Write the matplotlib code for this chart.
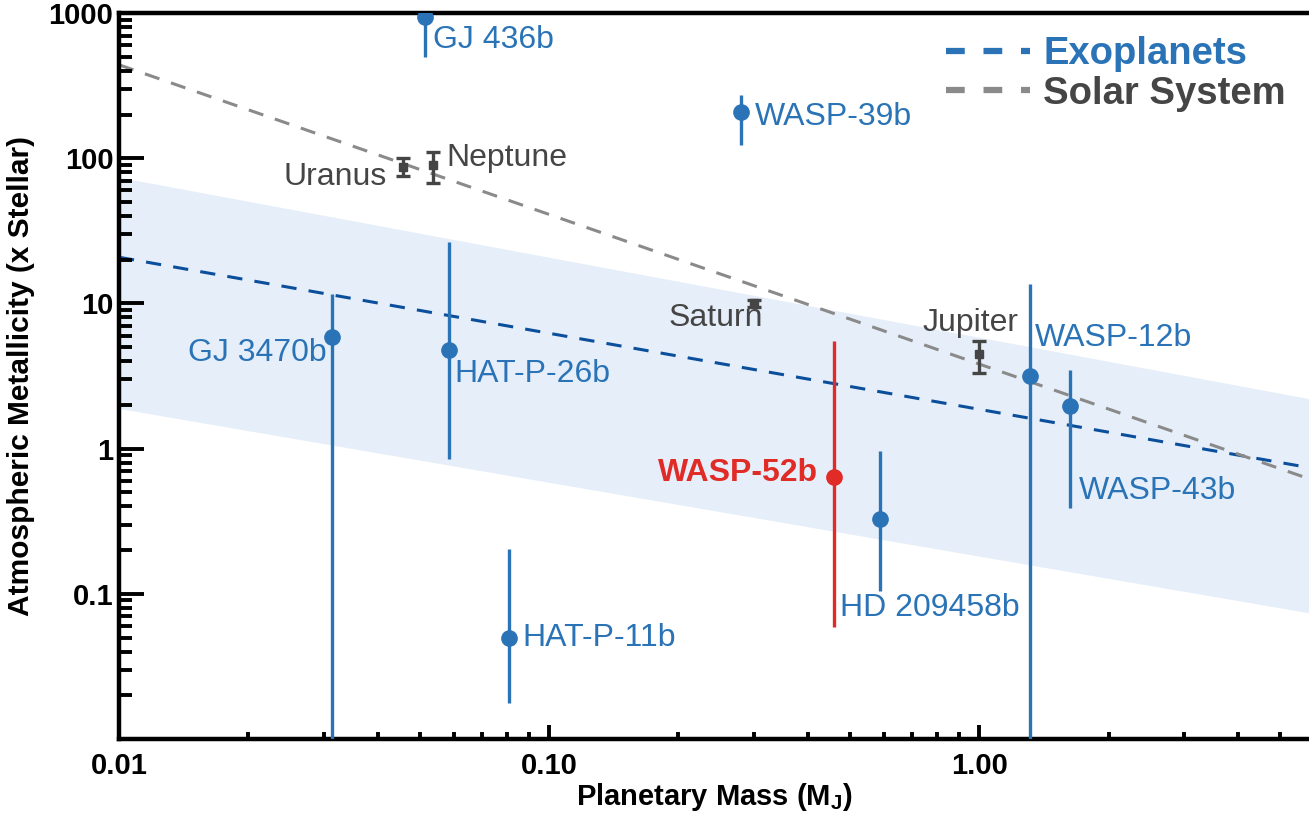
import numpy as np
import matplotlib
matplotlib.use('Agg')
from matplotlib import pyplot as plt
from matplotlib.lines import Line2D
from matplotlib.ticker import FixedLocator, LogLocator, NullFormatter

plt.rcParams['font.family'] = ['Liberation Sans', 'DejaVu Sans']
plt.rcParams['mathtext.fontset'] = 'custom'
plt.rcParams['mathtext.rm'] = 'Liberation Sans'
plt.rcParams['mathtext.bf'] = 'Liberation Sans:bold'

# exoplanets (mass in M_J, metallicity x stellar)
exo_names = ['GJ 436b', 'WASP-39b', 'GJ 3470b', 'HAT-P-26b', 'HAT-P-11b',
             'HD 209458b', 'WASP-12b', 'WASP-43b']
exo_mass = [0.0515, 0.28, 0.0313, 0.0585, 0.0807, 0.589, 1.315, 1.63]
exo_metal = [938, 207, 5.9, 4.8, 0.0498, 0.329, 3.18, 1.98]
exo_hi = [2000, 272, 11.7, 26.4, 0.204, 0.97, 13.7, 3.5]
exo_lo = [497, 123, 0.001, 0.85, 0.0177, 0.105, 0.001, 0.39]

# WASP-52b (this work)
w52_mass = [0.46]
w52_metal = [0.64]
w52_hi = [5.47]
w52_lo = [0.059]

# solar system
sol_names = ['Uranus', 'Neptune', 'Saturn', 'Jupiter']
sol_mass = [0.0458, 0.0537, 0.30, 1.0]
sol_metal = [86.7, 89.6, 10.0, 4.45]
sol_hi = [100, 110, 10.5, 5.47]
sol_lo = [76, 67, 9.5, 3.3]

# fitted trends at the plot edges
fit_mass = [0.01, 5.85]
exo_fit = [20.8, 0.74]
exo_band_hi = [74.0, 2.21]
exo_band_lo = [1.89, 0.074]
sol_fit = [440, 0.62]

BLUE = '#2a73b6'
DARKBLUE = '#0b4f9c'
RED = '#e02b27'
GREY = '#454545'
LIGHTGREY = '#8a8a8a'

# label offsets in points (x, y, ha)
exo_offsets = {'GJ 436b': (6, -16.6, 'left'), 'WASP-39b': (10, -3.6, 'left'),
               'GJ 3470b': (-3.6, -11.5, 'right'), 'HAT-P-26b': (4.3, -17.3, 'left'),
               'HAT-P-11b': (9.4, 0, 'left'), 'HD 209458b': (-28.8, -64, 'left'),
               'WASP-12b': (3.6, 27.4, 'left'), 'WASP-43b': (5.8, -61.2, 'left')}
sol_offsets = {'Uranus': (-11.5, -7.2, 'right'), 'Neptune': (10, 5, 'left'),
               'Saturn': (-28, -10.8, 'center'), 'Jupiter': (-5.8, 23, 'center')}

fig = plt.figure(figsize=(13.09, 8.14), dpi=100)
ax = fig.add_axes([0.0909, 0.0921, 0.9091, 0.8919])
ax.set_xscale('log')
ax.set_yscale('log')
ax.set_xlim(0.01, 5.85)
ax.set_ylim(0.01, 1000)

ax.fill_between(fit_mass, exo_band_lo, exo_band_hi, color='#e6eff9', lw=0, zorder=0)
ax.plot(fit_mass, exo_fit, color=DARKBLUE, lw=2.2, dashes=(5, 4), zorder=1)
ax.plot(fit_mass, sol_fit, color=LIGHTGREY, lw=2.2, dashes=(5, 4), zorder=1)

exo_err = [np.array(exo_metal) - np.array(exo_lo), np.array(exo_hi) - np.array(exo_metal)]
ax.errorbar(exo_mass, exo_metal, yerr=exo_err, fmt='o', color=BLUE, ms=11,
            elinewidth=2.4, capsize=0, zorder=3)
w52_err = [np.array(w52_metal) - np.array(w52_lo), np.array(w52_hi) - np.array(w52_metal)]
ax.errorbar(w52_mass, w52_metal, yerr=w52_err, fmt='o', color=RED, ms=11,
            elinewidth=2.4, capsize=0, zorder=3)
sol_err = [np.array(sol_metal) - np.array(sol_lo), np.array(sol_hi) - np.array(sol_metal)]
ax.errorbar(sol_mass, sol_metal, yerr=sol_err, fmt='s', color=GREY, ms=6,
            elinewidth=2.4, capsize=5, capthick=2.4, zorder=3)

for name, m, z in zip(exo_names, exo_mass, exo_metal):
    dx, dy, ha = exo_offsets[name]
    ax.annotate(name, (m, z), xytext=(dx, dy), textcoords='offset points',
                ha=ha, va='center', fontsize=23, color=BLUE, zorder=4)
ax.annotate('WASP-52b', (w52_mass[0], w52_metal[0]), xytext=(-11.5, 2.9),
            textcoords='offset points', ha='right', va='center', fontsize=23,
            color=RED, fontweight='bold', zorder=4)
for name, m, z in zip(sol_names, sol_mass, sol_metal):
    dx, dy, ha = sol_offsets[name]
    ax.annotate(name, (m, z), xytext=(dx, dy), textcoords='offset points',
                ha=ha, va='center', fontsize=23, color=GREY, zorder=4)

# axes styling
for side in ['left', 'bottom', 'top']:
    ax.spines[side].set_linewidth(3.2)
ax.spines['right'].set_visible(False)
ax.xaxis.set_major_locator(FixedLocator([0.01, 0.1, 1.0]))
ax.xaxis.set_minor_locator(LogLocator(base=10, subs=np.arange(2, 10)))
ax.xaxis.set_minor_formatter(NullFormatter())
ax.set_xticklabels(['0.01', '0.10', '1.00'])
ax.yaxis.set_major_locator(FixedLocator([0.1, 1, 10, 100, 1000]))
ax.yaxis.set_minor_locator(LogLocator(base=10, subs=np.arange(2, 10)))
ax.yaxis.set_minor_formatter(NullFormatter())
ax.set_yticklabels(['0.1', '1', '10', '100', '1000'])
ax.tick_params(axis='x', which='major', direction='in', length=10, width=2.8,
               labelsize=21, pad=9)
ax.tick_params(axis='x', which='minor', direction='in', length=5, width=2.8)
ax.tick_params(axis='y', which='major', direction='in', length=18, width=2.8,
               labelsize=21, pad=4)
ax.tick_params(axis='y', which='minor', direction='in', length=9, width=2.8)
ax.tick_params(top=False, right=False, which='both')
for lab in ax.get_xticklabels() + ax.get_yticklabels():
    lab.set_fontweight('bold')

ax.set_xlabel(r'Planetary Mass (M$_\mathbf{J}$)', fontsize=21, fontweight='bold', labelpad=1)
ax.set_ylabel('Atmospheric Metallicity (x Stellar)', fontsize=21.5, fontweight='bold', labelpad=10)

handles = [Line2D([], [], color=BLUE, lw=4.5, dashes=(3, 3)),
           Line2D([], [], color=LIGHTGREY, lw=4.5, dashes=(3, 3))]
leg = ax.legend(handles, ['Exoplanets', 'Solar System'], loc='upper right',
                frameon=False, fontsize=27.5, handlelength=2.2, handletextpad=0.35,
                labelspacing=0.1, borderaxespad=0.2, labelcolor=[BLUE, GREY],
                bbox_to_anchor=(1.0, 1.0))
for t in leg.get_texts():
    t.set_fontweight('bold')

fig.savefig('out.png', dpi=100)
